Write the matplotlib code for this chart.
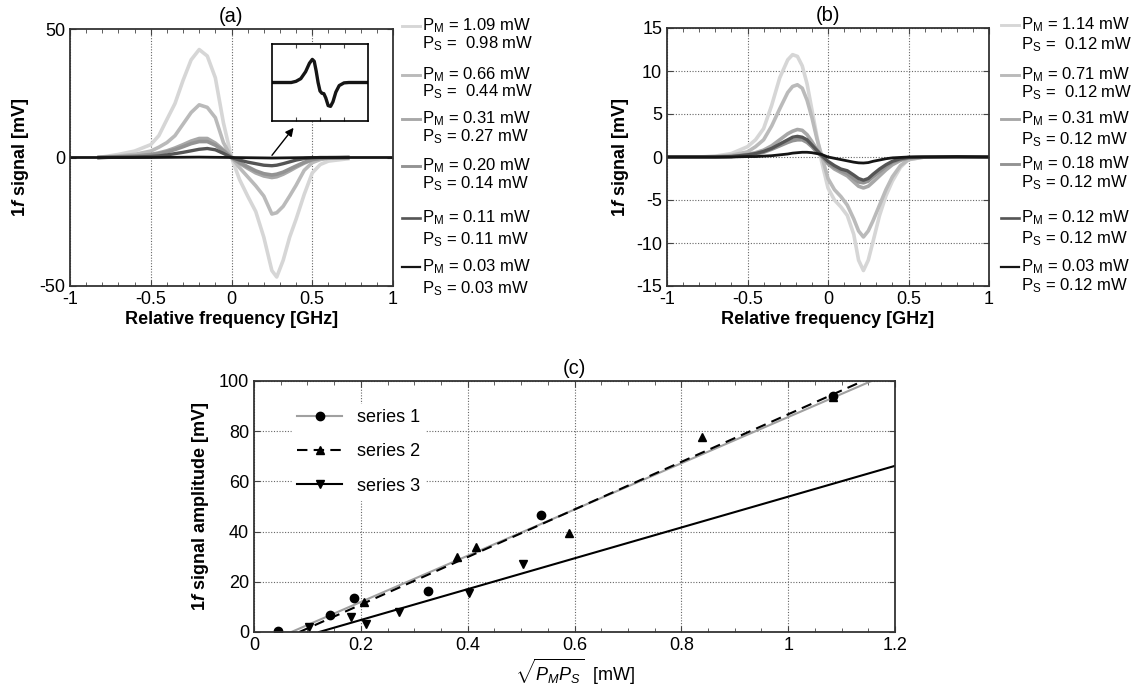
import numpy as np
import matplotlib
matplotlib.use("Agg")
import matplotlib.pyplot as plt
from matplotlib.lines import Line2D
from matplotlib.ticker import MultipleLocator

plt.rcParams['font.family'] = ['Liberation Sans', 'DejaVu Sans']
plt.rcParams['axes.unicode_minus'] = False
plt.rcParams['mathtext.fontset'] = 'custom'
plt.rcParams['mathtext.rm'] = 'Liberation Sans'
plt.rcParams['mathtext.it'] = 'Liberation Sans:italic'
plt.rcParams['mathtext.bf'] = 'Liberation Sans:bold'
try:
    plt.rcParams['mathtext.bfit'] = 'Liberation Sans:italic:bold'
except KeyError:
    pass

# ---------------- data: panel (a) ----------------
xa = [-0.82, -0.7, -0.6, -0.5, -0.45, -0.4, -0.35, -0.3, -0.25, -0.2, -0.15, -0.1, -0.05, 0.0,
      0.05, 0.1, 0.15, 0.2, 0.25, 0.28, 0.32, 0.36, 0.4, 0.45, 0.5, 0.55, 0.6, 0.72]
a_109 = [0, 1.2, 2.5, 5, 8.5, 14.8, 21, 30, 38, 42, 39.5, 31, 13.5, 0,
         -8.6, -15, -21, -31, -44, -46.5, -40, -31, -24, -14.4, -6, -2.7, -1.4, -0.5]
a_066 = [0, 0.6, 1.2, 2.5, 4, 5.8, 8.5, 13, 17.5, 20.5, 19.5, 15.5, 5.8, 0,
         -4, -7.5, -11, -15, -22, -21.5, -19, -15, -10.8, -5, -2, -0.8, -0.3, 0]
a_031 = [0, 0.3, 0.6, 1.2, 1.8, 2.6, 3.7, 5.0, 6.4, 7.4, 7.4, 5.6, 3.0, 0,
         -2.3, -4.2, -6.0, -7.2, -7.8, -7.5, -6.5, -5.2, -3.8, -2.2, -0.9, -0.4, -0.2, 0]
a_020 = [0, 0.25, 0.5, 1.0, 1.5, 2.2, 3.1, 4.2, 5.4, 6.2, 6.2, 4.8, 2.6, 0,
         -2.0, -3.6, -5.2, -6.3, -6.8, -6.5, -5.7, -4.5, -3.3, -1.9, -0.8, -0.3, -0.1, 0]
a_011 = [0, 0.1, 0.2, 0.4, 0.6, 1.0, 1.5, 2.0, 2.6, 3.2, 3.5, 3.0, 1.6, 0,
         -1.0, -1.8, -2.4, -3.0, -3.2, -3.0, -2.4, -1.7, -1.0, -0.4, -0.15, 0, 0, 0]
xa_black = [-1, -0.5, -0.2, 0, 0.25, 0.5, 1]
a_003 = [0, 0, 0.15, 0, -0.2, 0, 0]

labels_a = [("1.09", " 0.98"), ("0.66", " 0.44"), ("0.31", "0.27"),
            ("0.20", "0.14"), ("0.11", "0.11"), ("0.03", "0.03")]

# inset (normalised units)
x_inset = [-1, -0.6, -0.5, -0.4, -0.3, -0.22, -0.16, -0.12, -0.08, -0.04, 0.0, 0.04, 0.08,
           0.12, 0.17, 0.22, 0.27, 0.33, 0.4, 0.5, 0.6, 1]
y_inset = [0, 0, 0.03, 0.1, 0.28, 0.5, 0.6, 0.55, 0.3, 0.0, -0.22, -0.28, -0.29,
           -0.4, -0.6, -0.62, -0.5, -0.25, -0.08, -0.01, 0, 0]

# ---------------- data: panel (b) ----------------
xb = [-1, -0.8, -0.7, -0.6, -0.5, -0.45, -0.4, -0.35, -0.3, -0.25, -0.22, -0.19, -0.16, -0.13,
      -0.1, -0.07, -0.04, 0, 0.04, 0.08, 0.12, 0.16, 0.19, 0.22, 0.25, 0.28, 0.32, 0.36, 0.4,
      0.45, 0.5, 0.6, 0.8, 1.0]
b_114 = [0, 0, 0.1, 0.4, 1.2, 2.0, 3.3, 6.0, 9.2, 11.3, 11.9, 11.7, 10.6, 8.5,
         5.5, 2.5, -0.5, -3.6, -5.0, -5.8, -6.8, -9.0, -12.0, -13.2, -12.0, -9.8, -6.8, -4.5, -2.8,
         -1.2, -0.3, 0, 0, 0]
b_071 = [0, 0, 0.05, 0.2, 0.6, 1.2, 2.0, 3.6, 5.6, 7.5, 8.2, 8.4, 8.0, 6.6,
         4.6, 2.2, 0.2, -2.5, -3.8, -4.6, -5.6, -7.2, -8.6, -9.3, -8.6, -7.4, -5.6, -3.8, -2.3,
         -1.0, -0.3, 0, 0, 0]
b_031 = [0, 0, 0.02, 0.1, 0.3, 0.5, 0.8, 1.3, 2.0, 2.7, 3.0, 3.2, 3.1, 2.6,
         1.8, 0.9, 0.2, -0.8, -1.4, -1.8, -2.2, -2.9, -3.4, -3.6, -3.4, -2.9, -2.2, -1.5, -0.9,
         -0.4, -0.1, 0, 0, 0]
b_018 = [0, 0, 0, 0.05, 0.2, 0.35, 0.55, 0.9, 1.3, 1.7, 1.9, 2.0, 2.0, 1.7,
         1.2, 0.6, 0.1, -0.7, -1.2, -1.6, -1.9, -2.5, -2.9, -3.0, -2.8, -2.3, -1.7, -1.1, -0.6,
         -0.3, -0.1, 0, 0, 0]
b_012 = [0, 0, 0, 0.05, 0.25, 0.4, 0.65, 1.0, 1.5, 2.0, 2.3, 2.4, 2.3, 2.0,
         1.4, 0.8, 0.2, -0.5, -1.0, -1.4, -1.6, -2.1, -2.5, -2.7, -2.5, -2.0, -1.4, -0.9, -0.5,
         -0.2, -0.05, 0, 0, 0]
b_003 = [0, 0, 0, 0, 0.05, 0.05, 0.1, 0.15, 0.25, 0.35, 0.45, 0.5, 0.55, 0.55,
         0.5, 0.4, 0.3, 0.0, -0.15, -0.3, -0.45, -0.6, -0.68, -0.7, -0.65, -0.5, -0.35, -0.2, -0.1,
         -0.05, 0, 0, 0.05, 0]

labels_b = [("1.14", " 0.12"), ("0.71", " 0.12"), ("0.31", "0.12"),
            ("0.18", "0.12"), ("0.12", "0.12"), ("0.03", "0.12")]

# ---------------- data: panel (c) ----------------
s1_x = [0.045, 0.143, 0.188, 0.326, 0.537, 1.084]
s1_y = [0.5, 6.6, 13.4, 16.3, 46.7, 94.0]
s2_x = [0.205, 0.38, 0.415, 0.59, 0.838, 1.084]
s2_y = [11.8, 30.0, 33.8, 39.3, 77.5, 93.5]
s3_x = [0.103, 0.182, 0.209, 0.271, 0.403, 0.504]
s3_y = [1.8, 6.0, 3.3, 7.8, 15.7, 27.0]
# fitted lines as read (end points)
fit1_x, fit1_y = [0.07, 1.156], [0, 100]
fit2_x, fit2_y = [0.085, 1.14], [0, 100]
fit3_x, fit3_y = [0.122, 1.2], [0, 66.2]

colors = ['#d6d6d6', '#bababa', '#a8a8a8', '#939393', '#555555', '#151515']
widths = [2.6, 2.6, 2.6, 2.6, 2.4, 2.0]

TICK = 13
LAB = 13
TITLE = 14.5
grid_kw = dict(color='#666666', linestyle=(0, (1, 1.5)), linewidth=0.8)

fig = plt.figure(figsize=(11.38, 6.94), dpi=100)
W, H = 1138, 694


def px_axes(l, t, r, b):
    return fig.add_axes([l / W, 1 - b / H, (r - l) / W, (b - t) / H])


def style(ax):
    ax.tick_params(which='both', direction='in', top=True, right=True, labelsize=TICK,
                   color='#444444')
    ax.tick_params(which='major', length=4)
    ax.tick_params(which='minor', length=3)
    for s in ax.spines.values():
        s.set_linewidth(1.3)
        s.set_color('#333333')


def side_legend(ax, labels, x_line, x_text, y_pm, y_ps):
    for i, (pm, ps) in enumerate(labels):
        fig.add_artist(Line2D([x_line[0] / W, x_line[1] / W], [1 - y_pm[i] / H] * 2,
                              color=colors[i], lw=widths[i] * 0.8))
        fig.text(x_text / W, 1 - y_pm[i] / H, r"P$_\mathregular{M}$ = " + pm + " mW",
                 fontsize=12, va='center', ha='left')
        fig.text(x_text / W, 1 - y_ps[i] / H, r"P$_\mathregular{S}$ = " + ps + " mW",
                 fontsize=12, va='center', ha='left')


ylab = r"$\mathbf{1}\mathbfit{f}\mathbf{\ signal\ [mV]}$"

# ---- panel (a)
ax = px_axes(70, 29, 393, 286)
series_a = [a_109, a_066, a_031, a_020, a_011]
for i, ys in enumerate(series_a):
    ax.plot(xa, ys, color=colors[i], lw=widths[i])
ax.plot(xa_black, a_003, color=colors[5], lw=widths[5])
ax.set_xlim(-1, 1)
ax.set_ylim(-50, 50)
ax.set_xticks([-1, -0.5, 0, 0.5, 1])
ax.set_xticklabels(['-1', '-0.5', '0', '0.5', '1'])
ax.set_yticks([-50, 0, 50])
ax.xaxis.set_minor_locator(MultipleLocator(0.1))
ax.xaxis.grid(True, **grid_kw)
style(ax)
ax.set_xlabel("Relative frequency [GHz]", fontsize=LAB, fontweight='bold', labelpad=2)
ax.set_ylabel(ylab, fontsize=LAB, labelpad=6)
ax.set_title("(a)", fontsize=TITLE, pad=5)
ax.annotate("", xy=(0.395, 12.4), xytext=(0.24, 0),
            arrowprops=dict(arrowstyle='-|>', color='black', lw=1.0, mutation_scale=12))

ins = px_axes(272, 44, 368, 121)
ins.plot(x_inset, y_inset, color='#151515', lw=2.4)
ins.set_xlim(-1, 1)
ins.set_ylim(-1, 1)
ins.set_xticks([-0.5, 0, 0.5])
ins.set_yticks([])
ins.set_xticklabels([])
ins.tick_params(direction='in', top=True, length=3, color='#444444')
for s in ins.spines.values():
    s.set_linewidth(1.2)

side_legend(ax, labels_a, (402, 420), 422,
            [26, 75, 119, 166, 218, 267], [44, 92, 137, 184, 240, 289])

# ---- panel (b)
bx = px_axes(667, 28, 989, 286)
for i, ys in enumerate([b_114, b_071, b_031, b_018, b_012, b_003]):
    bx.plot(xb, ys, color=colors[i], lw=widths[i])
bx.set_xlim(-1, 1)
bx.set_ylim(-15, 15)
bx.set_xticks([-1, -0.5, 0, 0.5, 1])
bx.set_xticklabels(['-1', '-0.5', '0', '0.5', '1'])
bx.set_yticks([-15, -10, -5, 0, 5, 10, 15])
bx.xaxis.set_minor_locator(MultipleLocator(0.1))
bx.grid(True, **grid_kw)
style(bx)
bx.set_xlabel("Relative frequency [GHz]", fontsize=LAB, fontweight='bold', labelpad=2)
bx.set_ylabel(ylab, fontsize=LAB, labelpad=4)
bx.set_title("(b)", fontsize=TITLE, pad=5)

side_legend(bx, labels_b, (1001, 1019), 1021,
            [25, 75, 119, 164, 218, 267], [45, 93, 140, 183, 239, 286])

# ---- panel (c)
cx = px_axes(254, 381, 895, 632)
cx.plot(fit1_x, fit1_y, color='#a0a0a0', lw=1.5)
cx.plot(fit2_x, fit2_y, color='black', lw=1.5, linestyle=(0, (5, 3)))
cx.plot(fit3_x, fit3_y, color='black', lw=1.5)
cx.plot(s1_x, s1_y, 'o', color='black', ms=6)
cx.plot(s2_x, s2_y, '^', color='black', ms=6)
cx.plot(s3_x, s3_y, 'v', color='black', ms=6)
cx.set_xlim(0, 1.2)
cx.set_ylim(0, 100)
cx.set_xticks([0, 0.2, 0.4, 0.6, 0.8, 1.0, 1.2])
cx.set_xticklabels(['0', '0.2', '0.4', '0.6', '0.8', '1', '1.2'])
cx.set_yticks([0, 20, 40, 60, 80, 100])
cx.xaxis.set_minor_locator(MultipleLocator(0.05))
cx.grid(True, **grid_kw)
style(cx)
cx.set_xlabel(r"$\sqrt{P_M P_S}$  [mW]", fontsize=LAB, labelpad=2)
cx.set_ylabel(r"$\mathbf{1}\mathbfit{f}\mathbf{\ signal\ amplitude\ [mV]}$", fontsize=LAB,
              labelpad=6)
cx.set_title("(c)", fontsize=TITLE, pad=5)

handles = [Line2D([], [], color='#a0a0a0', lw=1.5, marker='o', mfc='black', mec='black', ms=6),
           Line2D([], [], color='black', lw=1.5, linestyle=(0, (5, 3)), marker='^', ms=6),
           Line2D([], [], color='black', lw=1.5, marker='v', ms=6)]
leg = cx.legend(handles, ['series 1', 'series 2', 'series 3'], loc='upper left',
                bbox_to_anchor=(0.045, 0.945), frameon=True, fontsize=13, handlelength=2.5,
                labelspacing=0.95, borderpad=0.3, fancybox=False, edgecolor='white',
                framealpha=1.0)

fig.savefig("out.png", dpi=100)
